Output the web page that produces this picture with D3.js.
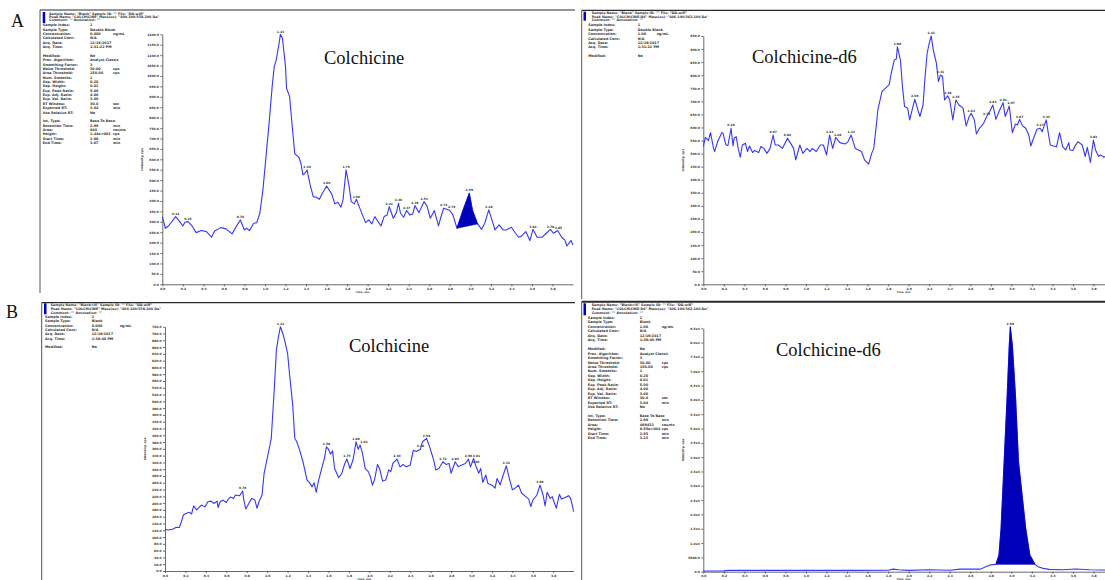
<!DOCTYPE html>
<html>
<head>
<meta charset="utf-8">
<script src="https://cdn.jsdelivr.net/npm/d3@7"></script>
<style>
  html, body { margin: 0; padding: 0; background: #fff; }
  svg { display: block; }
</style>
</head>
<body>
<svg id="chart" width="1105" height="580"></svg>
<script>
// ---- A, left: Colchicine (blank) ----
const aLeftTime = [0.00,0.03,0.06,0.13,0.17,0.20,0.22,0.25,0.29,0.33,0.38,0.43,0.48,0.51,0.57,0.62,0.68,0.72,0.76,0.80,0.82,0.85,0.89,0.92,0.95,0.98,1.01,1.04,1.07,1.09,1.11,1.14,1.15,1.17,1.20,1.21,1.24,1.26,1.29,1.33,1.35,1.37,1.39,1.41,1.44,1.47,1.50,1.53,1.55,1.60,1.65,1.68,1.71,1.74,1.76,1.79,1.82,1.84,1.87,1.89,1.93,1.98,2.01,2.04,2.07,2.09,2.13,2.16,2.19,2.21,2.25,2.28,2.30,2.32,2.35,2.38,2.41,2.44,2.46,2.50,2.55,2.58,2.61,2.65,2.69,2.71,2.74,2.77,2.80,2.83,2.87,2.93,2.99,3.02,3.07,3.11,3.14,3.18,3.21,3.24,3.28,3.32,3.35,3.40,3.44,3.47,3.50,3.54,3.58,3.61,3.65,3.70,3.74,3.78,3.81,3.85,3.89,3.92,3.94,3.98,4.00];
const aLeftIntensity = [325,269,280,325,301,280,298,301,280,248,258,253,226,256,272,266,242,277,309,261,269,258,293,296,341,453,613,773,949,1045,1077,1165,1200,1181,1045,941,901,789,626,610,581,525,533,549,477,421,418,408,429,472,434,386,394,370,405,549,469,397,386,408,357,296,309,290,325,309,280,325,333,373,317,344,389,341,322,354,333,338,378,344,397,373,317,354,280,317,365,360,354,333,269,357,437,357,290,264,293,357,309,261,285,261,261,274,245,226,232,253,210,264,226,226,245,264,245,258,226,213,184,210,189];
const aLeftPeakLabels = [0.12,0.25,0.76,1.14,1.40,1.60,1.79,1.90,2.21,2.30,2.37,2.46,2.54,2.74,2.79,2.99,3.18,3.62,3.78,3.85];

// ---- A, right: Colchicine-d6 (blank) ----
const aRightTime = [0.00,0.02,0.05,0.07,0.10,0.11,0.14,0.18,0.19,0.22,0.24,0.27,0.29,0.30,0.32,0.34,0.36,0.38,0.41,0.43,0.45,0.48,0.50,0.54,0.56,0.59,0.62,0.65,0.68,0.70,0.73,0.77,0.82,0.84,0.88,0.90,0.94,0.97,1.01,1.04,1.06,1.10,1.14,1.17,1.20,1.23,1.26,1.29,1.33,1.38,1.41,1.44,1.48,1.51,1.54,1.57,1.61,1.64,1.66,1.68,1.70,1.74,1.76,1.79,1.81,1.83,1.86,1.88,1.89,1.92,1.94,1.96,1.99,2.01,2.04,2.06,2.09,2.11,2.14,2.16,2.18,2.20,2.22,2.24,2.27,2.29,2.31,2.33,2.35,2.38,2.40,2.43,2.46,2.49,2.53,2.56,2.59,2.61,2.64,2.66,2.69,2.73,2.76,2.79,2.82,2.85,2.88,2.92,2.94,2.96,2.98,3.01,3.04,3.06,3.08,3.11,3.14,3.17,3.19,3.21,3.25,3.28,3.30,3.34,3.36,3.38,3.41,3.44,3.47,3.50,3.53,3.56,3.57,3.60,3.62,3.65,3.69,3.72,3.74,3.77,3.80,3.82,3.85,3.87,3.90,3.92,3.96,4.00];
const aRightIntensity = [527,562,550,580,520,508,546,580,580,533,531,597,529,559,565,520,486,533,540,508,529,504,512,504,527,520,501,520,571,533,533,520,559,546,520,476,533,501,520,508,520,508,533,533,495,571,520,562,542,537,546,571,520,514,508,476,460,501,520,591,667,737,745,756,763,807,858,862,909,858,756,680,674,629,677,708,667,642,686,795,884,922,950,897,846,776,801,795,705,721,705,629,705,686,674,606,642,654,629,575,597,616,642,661,686,631,661,695,642,661,682,580,613,610,631,606,597,571,529,552,593,597,584,629,578,533,529,526,580,527,514,542,514,512,529,546,533,489,524,466,552,514,489,495,486,490,485,480];
const aRightPeakLabels = [0.26,0.67,0.82,1.23,1.28,1.44,1.88,2.06,2.21,2.31,2.38,2.45,2.61,2.75,2.83,2.91,2.97,3.07,3.27,3.33,3.83];

// ---- B, left: Colchicine (blank + IS) ----
const bLeftTime = [0.00,0.03,0.08,0.11,0.14,0.16,0.18,0.21,0.24,0.26,0.28,0.31,0.34,0.36,0.39,0.42,0.45,0.48,0.51,0.52,0.54,0.57,0.60,0.62,0.64,0.67,0.69,0.73,0.76,0.77,0.79,0.82,0.85,0.88,0.90,0.92,0.95,0.97,0.99,1.02,1.04,1.07,1.09,1.11,1.13,1.15,1.17,1.20,1.22,1.25,1.27,1.29,1.32,1.35,1.39,1.42,1.44,1.46,1.48,1.50,1.53,1.56,1.58,1.60,1.62,1.64,1.66,1.70,1.73,1.76,1.78,1.81,1.84,1.87,1.89,1.91,1.93,1.96,1.99,2.01,2.03,2.05,2.08,2.10,2.13,2.16,2.19,2.21,2.23,2.27,2.30,2.33,2.36,2.40,2.43,2.46,2.50,2.52,2.56,2.59,2.63,2.65,2.68,2.72,2.75,2.78,2.80,2.84,2.87,2.90,2.94,2.97,2.99,3.02,3.04,3.07,3.09,3.11,3.14,3.16,3.20,3.23,3.25,3.28,3.31,3.34,3.37,3.40,3.42,3.46,3.49,3.52,3.56,3.58,3.60,3.64,3.67,3.70,3.72,3.74,3.77,3.79,3.83,3.86,3.88,3.91,3.95,3.97,4.00];
const bLeftIntensity = [123,121,124,129,128,145,165,170,173,168,192,180,190,194,189,204,206,199,206,187,204,209,202,212,218,214,224,222,236,212,183,199,214,209,185,204,224,288,317,361,391,538,651,690,720,703,681,641,577,489,391,381,354,322,268,258,248,260,232,263,298,332,366,359,344,354,302,275,288,317,330,302,327,381,359,371,350,302,293,278,253,268,314,302,265,268,298,293,317,330,307,314,307,312,356,352,359,381,391,366,327,298,302,322,314,317,288,322,307,312,317,330,307,332,312,288,302,261,283,258,253,244,273,254,283,310,273,239,243,253,229,222,212,190,209,224,253,224,192,232,214,219,185,226,212,216,222,214,175];
const bLeftPeakLabels = [0.76,1.13,1.58,1.75,1.86,1.91,2.30,2.48,2.58,2.72,2.83,2.96,3.01,3.06,3.33,3.66];

// ---- B, right: Colchicine-d6 (blank + IS) ----
const bRightTime = [0.00,0.10,0.20,0.25,0.40,0.80,1.20,1.50,1.80,1.85,1.90,2.00,2.20,2.40,2.50,2.70,2.75,2.80,2.85,2.88,2.90,2.93,2.96,2.98,2.99,3.01,3.04,3.07,3.14,3.18,3.23,3.26,3.31,3.37,3.50,3.63,3.76,3.90,4.00];
const bRightIntensity = [230,250,300,465,470,470,480,470,500,900,700,470,700,500,900,900,1750,2400,2560,5800,15100,38400,61700,79100,85500,79100,61700,38400,15100,5800,2560,1700,1160,800,700,930,700,600,580];
const bRightPeakLabels = [2.99];

// ---- report text blocks ----
const headerA = ['Sample Name: "Blank"  Sample ID: ""  File: "DD.wiff"', 'Peak Name: "COLCHICINE"  Mass(es): "400.100/358.200 Da"', 'Comment: ""  Annotation: ""'];
const headerAd6 = ['Sample Name: "Blank"  Sample ID: ""  File: "DD.wiff"', 'Peak Name: "COLCHICINE-D6"  Mass(es): "406.100/362.100 Da"', 'Comment: ""  Annotation: ""'];
const headerB = ['Sample Name: "Blank+IS"  Sample ID: ""  File: "DD.wiff"', 'Peak Name: "COLCHICINE"  Mass(es): "400.100/358.200 Da"', 'Comment: ""  Annotation: ""'];
const headerBd6 = ['Sample Name: "Blank+IS"  Sample ID: ""  File: "DD.wiff"', 'Peak Name: "COLCHICINE-D6"  Mass(es): "406.100/362.100 Da"', 'Comment: ""  Annotation: ""'];

const shortRowsA = [['Sample Index:', '1', ''], ['Sample Type:', 'Double Blank', ''], ['Concentration:', '0.000', 'ng/mL'], ['Calculated Conc:', 'N/A', ''], ['Acq. Date:', '12/19/2017', ''], ['Acq. Time:', '1:31:22 PM', ''], null, ['Modified:', 'No', '']];
const shortRowsAd6 = [['Sample Index:', '1', ''], ['Sample Type:', 'Double Blank', ''], ['Concentration:', '1.00', 'ng/mL'], ['Calculated Conc:', 'N/A', ''], ['Acq. Date:', '12/19/2017', ''], ['Acq. Time:', '1:31:22 PM', ''], null, ['Modified:', 'No', '']];
const shortRowsB = [['Sample Index:', '2', ''], ['Sample Type:', 'Blank', ''], ['Concentration:', '0.000', 'ng/mL'], ['Calculated Conc:', 'N/A', ''], ['Acq. Date:', '12/19/2017', ''], ['Acq. Time:', '1:38:40 PM', ''], null, ['Modified:', 'No', '']];

const processingRows = [['Proc. Algorithm:', 'Analyst Classic', ''], ['Smoothing Factor:', '3', ''], ['Noise Threshold:', '30.00', 'cps'], ['Area Threshold:', '150.00', 'cps'], ['Num. Smooths:', '1', ''], ['Sep. Width:', '0.20', ''], ['Sep. Height:', '0.01', ''], ['Exp. Peak Ratio:', '5.00', ''], ['Exp. Adj. Ratio:', '4.00', ''], ['Exp. Val. Ratio:', '3.00', ''], ['RT Window:', '30.0', 'sec'], ['Expected RT:', '3.04', 'min'], ['Use Relative RT:', 'No', ''], null];
const peakRowsA = [['Int. Type:', 'Base To Base', ''], ['Retention Time:', '2.99', 'min'], ['Area:', '840', 'counts'], ['Height:', '1.44e+002', 'cps'], ['Start Time:', '2.88', 'min'], ['End Time:', '3.07', 'min']];
const peakRowsBd6 = [['Int. Type:', 'Base To Base', ''], ['Retention Time:', '2.99', 'min'], ['Area:', '488432', 'counts'], ['Height:', '8.55e+004', 'cps'], ['Start Time:', '2.85', 'min'], ['End Time:', '3.23', 'min']];
const fullRowsA = shortRowsA.concat(processingRows, peakRowsA);
const fullRowsBd6 = [['Sample Index:', '2', ''], ['Sample Type:', 'Blank', ''], ['Concentration:', '1.00', 'ng/mL'], ['Calculated Conc:', 'N/A', ''], ['Acq. Date:', '12/19/2017', ''], ['Acq. Time:', '1:38:40 PM', ''], null, ['Modified:', 'No', '']].concat(processingRows, peakRowsBd6);

const fmtPlain = d3.format('.1f');
const fmtExp = v => v >= 10000 ? (v / 10000).toFixed(1) + 'e4' : v.toFixed(1);

const panels = [
  { time: aLeftTime, val: aLeftIntensity, labels: aLeftPeakLabels, yMax: 1200, yStep: 50, fmt: fmtPlain, fill: [2.87, 3.07],
    frame: { x: 40, y: 10, r: 575, b: 293, w: 1.2 }, plot: { x0: 162.3, x1: 573, y0: 284.3, y1: 34.3 },
    title: 'Colchicine', tx: 324, ty: 64, header: headerA, hx: 9, hy: 14.5, hs: 3.4, bar: [2.7, 2, 11],
    rows: fullRowsA, rx: [2.7, 50, 73], ry: 26.3, rs: 4.36 },
  { time: aRightTime, val: aRightIntensity, labels: aRightPeakLabels, yMax: 950, yStep: 50, fmt: fmtPlain, fill: null,
    frame: { x: 581.7, y: 10.3, r: 1105, b: 299, w: 1.2 }, plot: { x0: 703.3, x1: 1114, y0: 284.3, y1: 36 },
    title: 'Colchicine-d6', tx: 752, ty: 63.3, header: headerAd6, hx: 10, hy: 13.9, hs: 3.6, bar: [1.8, 1.4, 9],
    rows: shortRowsAd6, rx: [6.5, 56, 75], ry: 26.3, rs: 4.4 },
  { time: bLeftTime, val: bLeftIntensity, labels: bLeftPeakLabels, yMax: 720, yStep: 20, fmt: fmtPlain, fill: null,
    frame: { x: 41.7, y: 302.7, r: 575, b: 580, w: 1.2 }, plot: { x0: 165, x1: 573.7, y0: 571, y1: 326.7 },
    title: 'Colchicine', tx: 349, ty: 352, header: headerB, hx: 9, hy: 306.2, hs: 3.9, bar: [2.3, 0.6, 11],
    rows: shortRowsB, rx: [3.3, 50, 78], ry: 318, rs: 4.35 },
  { time: bRightTime, val: bRightIntensity, labels: bRightPeakLabels, yMax: 85000, yStep: 5000, fmt: fmtExp, fill: [2.85, 3.23],
    frame: { x: 581.7, y: 301.7, r: 1105, b: 580, w: 2 }, plot: { x0: 703.3, x1: 1114, y0: 571.7, y1: 328.3 },
    title: 'Colchicine-d6', tx: 776, ty: 356, header: headerBd6, hx: 10, hy: 305.5, hs: 4.3, bar: [1.8, 1.6, 12],
    rows: fullRowsBd6, rx: [6, 58, 80], ry: 319, rs: 4.45 }
];

const svg = d3.select('#chart');
const tinyFont = '"DejaVu Sans", sans-serif';
const lineColor = '#3636ff';
const fillColor = '#0000b8';

function tiny(sel, size) {
  return sel.attr('font-family', tinyFont).attr('font-weight', 'bold').attr('font-size', size).attr('fill', '#333');
}

panels.forEach(p => {
  const g = svg.append('g');
  const f = p.frame;

  // report frame: top rule and left rule
  g.append('line').attr('x1', f.x).attr('x2', f.r).attr('y1', f.y).attr('y2', f.y)
    .attr('stroke', '#2a2a2a').attr('stroke-width', f.w);
  g.append('line').attr('x1', f.x).attr('x2', f.x).attr('y1', f.y).attr('y2', f.b)
    .attr('stroke', '#555').attr('stroke-width', 1);

  // header block
  g.append('rect').attr('x', f.x + p.bar[0]).attr('y', f.y + p.bar[1]).attr('width', 2.5).attr('height', p.bar[2]).attr('fill', '#0000cc');
  p.header.forEach((t, i) => {
    tiny(g.append('text'), 3.3).attr('x', f.x + p.hx).attr('y', p.hy + i * p.hs).text(t);
  });
  p.rows.forEach((r, i) => {
    if (!r) return;
    const y = p.ry + i * p.rs;
    r.forEach((t, j) => { if (t) tiny(g.append('text'), 3.4).attr('x', f.x + p.rx[j]).attr('y', y).text(t); });
  });

  const x = d3.scaleLinear().domain([0, 4]).range([p.plot.x0, p.plot.x1]);
  const y = d3.scaleLinear().domain([0, p.yMax]).range([p.plot.y0, p.plot.y1]);
  const pts = p.time.map((t, i) => [t, p.val[i]]);

  const yAxis = g.append('g').attr('transform', `translate(${p.plot.x0},0)`)
    .call(d3.axisLeft(y).tickValues(d3.range(0, p.yMax + 1, p.yStep)).tickSize(2).tickSizeOuter(0).tickPadding(1.5).tickFormat(p.fmt));
  const xAxis = g.append('g').attr('transform', `translate(0,${p.plot.y0})`)
    .call(d3.axisBottom(x).tickValues(d3.range(0, 3.81, 0.2)).tickSize(2).tickSizeOuter(0).tickPadding(1.5).tickFormat(d3.format('.1f')));
  [yAxis, xAxis].forEach(a => {
    a.attr('font-size', null).attr('font-family', null);
    a.selectAll('path,line').attr('stroke', '#444').attr('stroke-width', 0.8);
    tiny(a.selectAll('text'), 3);
  });

  // axis titles; on the lower row the x title sits at the page edge, as in the source
  tiny(g.append('text'), 2.5).attr('x', x(1.95)).attr('y', Math.min(p.plot.y0 + 8.5, 580)).attr('text-anchor', 'middle').text('Time, min');
  tiny(g.append('text'), 3).attr('text-anchor', 'middle')
    .attr('transform', `translate(${p.plot.x0 - 19.5},${(p.plot.y0 + p.plot.y1) / 2}) rotate(-90)`).text('Intensity, cps');

  const line = d3.line().x(d => x(d[0])).y(d => y(d[1]));
  g.append('path').datum(pts).attr('d', line).attr('fill', 'none')
    .attr('stroke', lineColor).attr('stroke-width', 1.1).attr('stroke-linejoin', 'round');

  if (p.fill) {
    const sub = pts.filter(d => d[0] >= p.fill[0] - 1e-9 && d[0] <= p.fill[1] + 1e-9);
    g.append('path').attr('d', line(sub) + 'Z').attr('fill', fillColor).attr('stroke', fillColor).attr('stroke-width', 0.6);
  }

  // peak labels; a label crowding its neighbour is pushed right, as the software does
  let prev = null;
  p.labels.forEach(lt => {
    const best = d3.greatest(pts.filter(d => Math.abs(d[0] - lt) <= 0.035), d => d[1]);
    if (!best) return;
    const t = tiny(g.append('text'), 3).attr('x', x(best[0])).attr('y', y(best[1]) - 1.8)
      .attr('text-anchor', 'middle').text(lt.toFixed(2));
    let box = t.node().getBBox();
    if (prev && box.x < prev.x + prev.width + 0.6 && Math.abs(box.y - prev.y) < prev.height) {
      t.attr('x', +t.attr('x') + (prev.x + prev.width + 0.6 - box.x));
      box = t.node().getBBox();
    }
    prev = box;
  });

  g.append('text').attr('x', p.tx).attr('y', p.ty)
    .attr('font-family', '"Liberation Serif", "Times New Roman", serif').attr('font-size', 18.5).attr('fill', '#111')
    .text(p.title);
});

// panel letters
svg.append('text').attr('x', 11).attr('y', 27).attr('font-family', '"Liberation Serif", serif').attr('font-size', 18).attr('fill', '#111').text('A');
svg.append('text').attr('x', 6).attr('y', 318).attr('font-family', '"Liberation Serif", serif').attr('font-size', 18).attr('fill', '#111').text('B');
</script>
</body>
</html>
